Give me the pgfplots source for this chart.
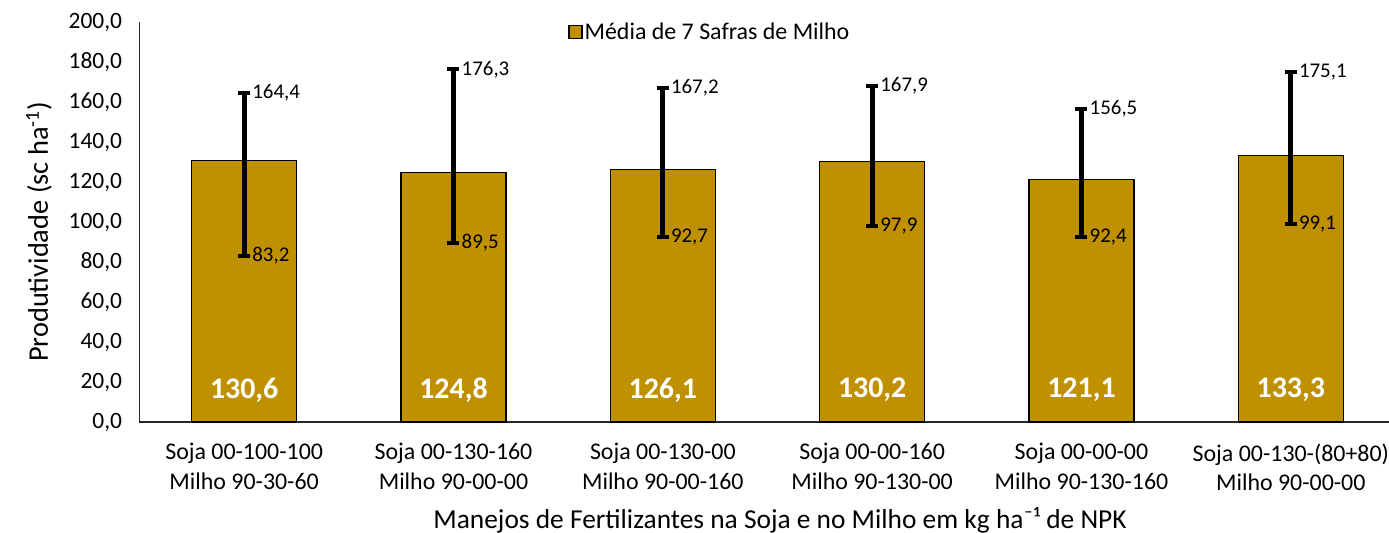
\documentclass[border=0pt]{standalone}
\usepackage{pgfplots}
\pgfplotsset{compat=1.18}
\usepackage{pgfplotstable}
\usepackage{fontspec}
\setmainfont{Carlito}
\definecolor{gold}{HTML}{BF9000}

\pgfplotstableread{
x mean lo hi ep em hl ll ml
0 130.6 83.2 164.4 33.8 47.4 164,4 83,2 130,6
1 124.8 89.5 176.3 51.5 35.3 176,3 89,5 124,8
2 126.1 92.7 167.2 41.1 33.4 167,2 92,7 126,1
3 130.2 97.9 167.9 37.7 32.3 167,9 97,9 130,2
4 121.1 92.4 156.5 35.4 28.7 156,5 92,4 121,1
5 133.3 99.1 175.1 41.8 34.2 175,1 99,1 133,3
}\data

\begin{document}
\begin{tikzpicture}
\useasboundingbox (-139.5bp,-111bp) rectangle (1249.5bp,422bp);
\begin{axis}[
  scale only axis, width=1256bp, height=400bp,
  xmin=-0.5, xmax=5.5, ymin=0, ymax=200,
  axis x line*=bottom, axis y line*=left,
  axis line style={-, line width=1.2bp, black!85},
  xtick={0,...,5},
  xticklabels={{Soja 00-100-100\\Milho 90-30-60},{Soja 00-130-160\\Milho 90-00-00},{Soja 00-130-00\\Milho 90-00-160},{Soja 00-00-160\\Milho 90-130-00},{Soja 00-00-00\\Milho 90-130-160},{Soja 00-130-(80+80)\\Milho 90-00-00}},
  xticklabel style={align=center, font=\fontsize{24}{29.5}\selectfont, yshift=-18bp},
  ytick={0,20,...,200},
  yticklabel style={font=\fontsize{23.5}{28}\selectfont, /pgf/number format/.cd, fixed, fixed zerofill, precision=1, use comma, assume math mode=true},
  yticklabel shift=14bp,
  major tick length=0pt,
  ylabel={Produtividade (sc ha\textsuperscript{-1})},
  every axis y label/.style={at={(axis description cs:-0.08,0.475)}, rotate=90, anchor=center, font=\fontsize{28.5}{32}\selectfont},
  xlabel={Manejos de Fertilizantes na Soja e no Milho em kg ha⁻¹ de NPK},
  every axis x label/.style={at={(axis description cs:0.51,-0.245)}, anchor=center, font=\fontsize{27.5}{32}\selectfont},
  legend style={at={(axis description cs:0.454,0.975)}, anchor=center, draw=none, fill=none, font=\fontsize{24}{29}\selectfont, legend cell align=left},
  clip=false,
]
\addplot[ybar, bar width=105bp, bar shift=0pt, fill=gold, draw=black, line width=1.2bp,
  legend image code/.code={\draw[fill=gold, draw=black, line width=1.6bp] (0bp,-6.5bp) rectangle (13bp,6.5bp);},
  error bars/.cd, y dir=both, y explicit,
  error bar style={line width=5bp, black},
  error mark options={rotate=90, line width=4bp, mark size=6bp, black}]
  table[x=x, y=mean, y error plus=ep, y error minus=em]{\data};
\addlegendentry{Média de 7 Safras de Milho}
\addplot[forget plot, only marks, mark=*, mark size=0pt, mark options={draw=none, fill=none},
  nodes near coords, point meta=explicit symbolic,
  every node near coord/.append style={anchor=west, xshift=7bp, text=black, inner sep=1bp, font=\fontsize{21}{25}\selectfont}]
  table[x=x, y=hi, meta=hl]{\data};
\addplot[forget plot, only marks, mark=*, mark size=0pt, mark options={draw=none, fill=none},
  nodes near coords, point meta=explicit symbolic,
  every node near coord/.append style={anchor=west, xshift=7bp, text=black, inner sep=1bp, font=\fontsize{21}{25}\selectfont}]
  table[x=x, y=lo, meta=ll]{\data};
\addplot[forget plot, only marks, mark=*, mark size=0pt, mark options={draw=none, fill=none},
  nodes near coords, point meta=explicit symbolic,
  every node near coord/.append style={anchor=center, text=white, inner sep=0bp, font=\bfseries\fontsize{30}{36}\selectfont}]
  table[x=x, y expr=16, meta=ml]{\data};
\end{axis}
\end{tikzpicture}
\end{document}
